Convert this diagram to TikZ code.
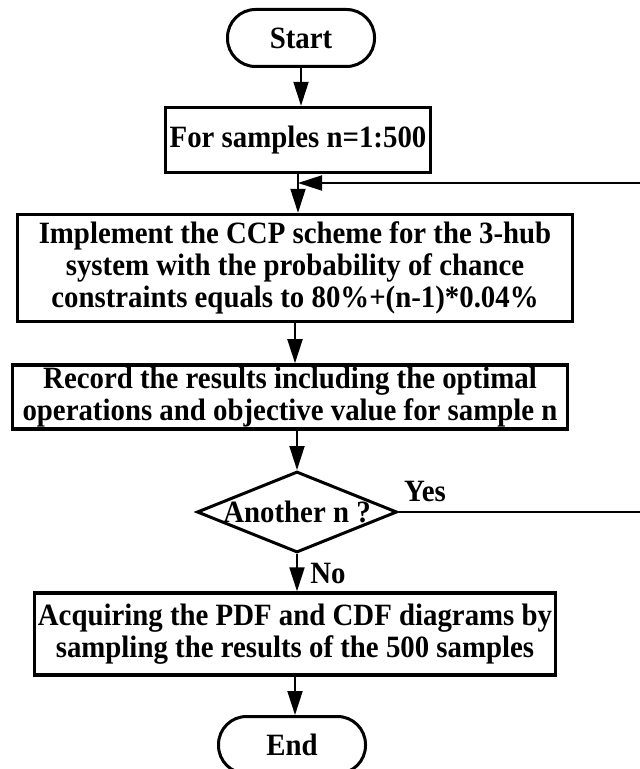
\documentclass[tikz,border=0pt]{standalone}
\usepackage{fontspec}
\setmainfont[FakeStretch=0.93]{Liberation Serif}
\usepackage{tikz}
\usetikzlibrary{positioning}
\usetikzlibrary{arrows.meta}
\usetikzlibrary{shapes.geometric}

\begin{document}
\begin{tikzpicture}[
            x = 0.5pt, y = -0.5pt, % pixel grid of the figure
            > = {Triangle[width=7.5pt,length=12pt]}, % arrow head style
            line width = 1pt, % line style
            font = \fontsize{15.5pt}{16pt}\selectfont\bfseries
        ]

        \tikzstyle{terminal}=[
            draw, line width = 1.5pt,
            rounded corners = 14pt,
            minimum width = 73.5pt, minimum height = 28.5pt
        ]
        \tikzstyle{process}=[
            draw, line width = 1.7pt,
            align = center, inner sep = 1pt
        ]
        \tikzstyle{decision}=[
            draw, diamond, line width = 1.5pt,
            aspect = 2.5, inner xsep = -6pt, inner ysep = 0pt
        ]

        \useasboundingbox (0,0) rectangle (640,769);

        % main column
        \node[terminal] (S) at (301,38) {Start};
        \node[process, minimum width = 132.5pt, minimum height = 32.5pt] (F) at (298,140) {For samples n=1:500};
        \node[process, minimum width = 277.5pt, minimum height = 53.5pt] (I) at (295,268)
            {Implement the CCP scheme for the 3-hub\\system with the probability of chance\\constraints equals to 80\%+(n-1)*0.04\%};
        \node[process, minimum width = 277.5pt, minimum height = 31.5pt] (R) at (290,397)
            {Record the results including the optimal\\operations and objective value for sample n};
        \node[decision, minimum width = 100pt, minimum height = 40.5pt] (D) at (297,512) {Another n ?};
        \node[process, minimum width = 260.5pt, minimum height = 41pt] (A) at (295,634)
            {Acquiring the PDF and CDF diagrams by\\sampling the results of the 500 samples};
        \node[terminal] (E) at (292,745) {End};

        \path[->] (S.south) edge (S.south |- F.north);
        \path[->] (F.south) edge (F.south |- I.north);
        \path[->] (I.south) edge (I.south |- R.north);
        \path[->] (R.south -| D.north) edge (D.north);
        \path[->] (D.south) edge (D.south |- A.north);
        \path[->] (A.south) edge (A.south |- E.north);

        % loop back
        \coordinate (J) at (F.south |- 0,183);
        \coordinate (B) at (648,183);
        \draw[->] (D.east) -| (B) -- (J);

        \node (Y) at (425,491) {Yes};
        \node (N) at (328,573) {No};

\end{tikzpicture}
\end{document}
